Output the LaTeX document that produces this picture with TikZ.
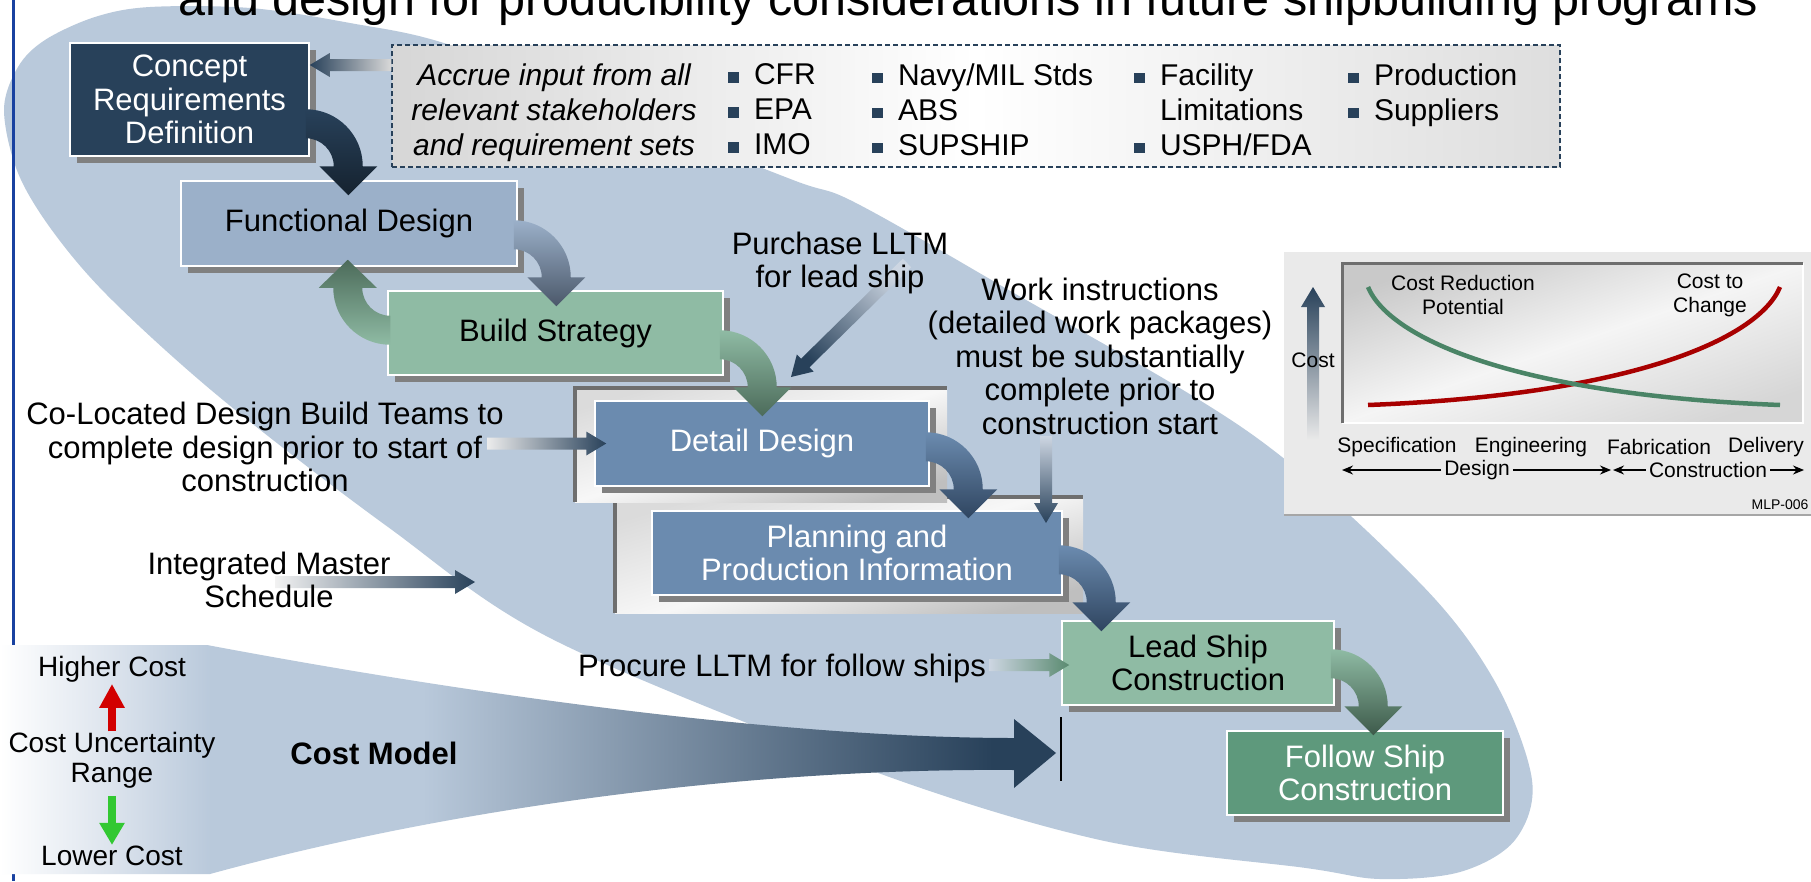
\documentclass[tikz,border=0pt]{standalone}
\usepackage{fontspec}
\setmainfont{Liberation Sans}
\usetikzlibrary{arrows.meta,calc,shadows}
\definecolor{blob}{RGB}{185,201,219}
\definecolor{navy}{RGB}{40,65,90}
\definecolor{navydark}{RGB}{21,34,47}
\definecolor{fdblue}{RGB}{155,176,201}
\definecolor{fddark}{RGB}{75,88,106}
\definecolor{ddblue}{RGB}{107,139,175}
\definecolor{dddark}{RGB}{47,69,96}
\definecolor{bsgreen}{RGB}{143,187,164}
\definecolor{bsdark}{RGB}{76,107,90}
\definecolor{fsgreen}{RGB}{94,153,124}
\definecolor{fsdark}{RGB}{61,90,74}
\definecolor{procgreen}{RGB}{90,138,112}
\definecolor{fadeA}{RGB}{222,229,238}
\definecolor{fadeblue}{RGB}{205,214,226}
\definecolor{shadowgrey}{RGB}{128,128,128}
\definecolor{bevelgrey}{RGB}{110,110,110}
\definecolor{leftblue}{RGB}{25,65,160}
\definecolor{curvegreen}{RGB}{74,132,102}
\definecolor{curvered}{RGB}{168,0,0}
\definecolor{upred}{RGB}{210,0,0}
\definecolor{downgreen}{RGB}{50,200,50}
\definecolor{chartpanel}{RGB}{234,234,234}
\pgfdeclarehorizontalshading{costfade}{100bp}{color(0bp)=(white); color(25bp)=(white);
  color(30bp)=(fadeA); color(35bp)=(blob); color(45bp)=(blob); color(72bp)=(navy); color(100bp)=(navy)}
\newcommand{\sqbullet}{{\color{navy}\raisebox{0.07em}{\rule{0.36em}{0.36em}}}\hspace{0.5em}}
% curved hand-over arrow: [offset]{from}{to}{start colour}{tip colour}
\newcommand{\bendarrow}[5][13]{%
  \coordinate (bc) at ($(#2.east |- #3.north)+(-4,#1)$);
  \shade[top color=#4, bottom color=#5] ($(bc)+(0,57)$) arc[start angle=90, end angle=0, radius=57pt]
    -- ($(bc)+(71.5,0)$) -- ($(bc)+(42.5,-29)$) -- ($(bc)+(13.5,0)$) -- ($(bc)+(28,0)$)
    arc[start angle=0, end angle=90, radius=28pt] -- cycle;
}
\newcommand{\bendback}[4]{%
  \coordinate (bb) at ($(#1.west |- #2.south)+(3,-21)$);
  \shade[bottom color=#3, top color=#4] ($(bb)+(0,-57)$) arc[start angle=270, end angle=180, radius=57pt]
    -- ($(bb)+(-71.5,0)$) -- ($(bb)+(-42.5,28)$) -- ($(bb)+(-13.5,0)$) -- ($(bb)+(-28,0)$)
    arc[start angle=180, end angle=270, radius=28pt] -- cycle;
}
% straight block arrow: {shading}{from}{to}
\newcommand{\fatarrow}[3]{%
  \coordinate (fa-h) at ($(#3)!20pt!(#2)$);
  \shade[#1] ($(#2)!6pt!270:(#3)$) -- ($(fa-h)!6pt!270:(#3)$) -- ($(fa-h)!12pt!270:(#3)$)
    -- (#3) -- ($(fa-h)!12pt!90:(#3)$) -- ($(fa-h)!6pt!90:(#3)$) -- ($(#2)!6pt!90:(#3)$) -- cycle;
}
\tikzset{
  every node/.style={font=\fontsize{31}{33.5}\selectfont, inner sep=1pt},
  stage/.style={draw=white, line width=1.5pt, align=center,
    general shadow={fill=shadowgrey, shadow xshift=7pt, shadow yshift=-7pt}},
  sdark/.style={stage, fill=navy, text=white},
  slight/.style={stage, fill=fdblue},
  sgreen/.style={stage, fill=bsgreen},
  ssteel/.style={stage, fill=ddblue, text=white},
  sfollow/.style={stage, fill=fsgreen, text=white},
  bevel/.style={left color=gray!28, right color=gray!50, middle color=gray!6, shading angle=17, inner sep=0pt},
  bevel edge/.style={draw=bevelgrey, line width=4pt},
  stakebox/.style={draw=navy, line width=1.5pt, dash pattern=on 5pt off 3pt,
    left color=gray!32, right color=gray!26, middle color=white},
  note/.style={align=center},
  stakecol/.style={font=\fontsize{30}{35}\selectfont, align=left, anchor=north west, inner sep=0pt},
  legend/.style={font=\fontsize{28}{30}\selectfont, align=center},
  chartlabel/.style={font=\fontsize{21}{24}\selectfont, align=center, inner sep=3pt},
  axisarrow/.style={-{Stealth[length=11pt,width=9pt]}, line width=1.3pt},
}
\begin{document}
\begin{tikzpicture}[x=1pt,y=1pt]
  \useasboundingbox (0,0) rectangle (1811,-881);
  \clip (0,0) rectangle (1811,-881);
  \fill[white] (0,0) rectangle (1811,-881);

  % backdrop
  \fill[blob] plot[smooth cycle, tension=0.55] coordinates {(4,-110) (18,-67) (45,-40) (95,-17)
    (150,-7) (250,-8) (350,-23) (450,-45) (620,-112) (793,-180) (854,-202) (1000,-285)
    (1250,-433) (1417,-580) (1494,-680) (1532,-780) (1515,-840) (1460,-872) (1380,-879)
    (1306,-868) (1100,-840) (870,-770) (554,-640) (388,-527) (223,-400) (112,-300)
    (54,-233) (18,-173)};
  \draw[leftblue, line width=2.5pt] (13.5,0) -- (13.5,-881);
  \node[anchor=base west, font=\fontsize{48.5}{50}\selectfont, inner sep=0pt] (title) at (178,-15)
    {and design for producibility considerations in future shipbuilding programs};

  % cost model funnel
  \shade[shading=costfade] (0,-645) -- (207,-645) .. controls (500,-700) and (800,-738) .. (1014,-738)
    -- (1014,-719) -- (1056,-753) -- (1014,-788) -- (1014,-770)
    .. controls (780,-768) and (480,-800) .. (210,-874) -- (0,-874) -- cycle;
  \draw[line width=2pt] (1061,-717) -- (1061,-781);

  % panels behind detail design and planning
  \node[bevel, minimum width=468pt, minimum height=116pt] (ppanel) at (849,-555) {};
  \draw[bevel edge] (ppanel.south west) |- (ppanel.north east);
  \node[bevel, minimum width=372pt, minimum height=114pt] (dpanel) at (761,-445) {};
  \draw[bevel edge] (dpanel.south west) |- (dpanel.north east);

  % stages
  \node[sdark, minimum width=239pt, minimum height=113pt] (concept) at (189.5,-99.5) {Concept\\Requirements\\Definition};
  \node[slight, minimum width=336pt, minimum height=85pt] (functional) at (349,-223.5) {Functional Design};
  \node[sgreen, minimum width=335pt, minimum height=84pt] (build) at (555.5,-333) {Build Strategy};
  \node[ssteel, minimum width=334pt, minimum height=85pt] (detail) at (762,-443.5) {Detail Design};
  \node[ssteel, minimum width=410pt, minimum height=84pt] (planning) at (857,-553) {Planning and\\Production Information};
  \node[sgreen, minimum width=272pt, minimum height=84pt] (lead) at (1198,-663) {Lead Ship\\Construction};
  \node[sfollow, minimum width=276pt, minimum height=84pt] (follow) at (1365,-773) {Follow Ship\\Construction};

  % stakeholder inputs
  \node[stakebox, minimum width=1168pt, minimum height=122pt] (stake) at (976,-106) {};
  \node[stakecol, anchor=north, align=center, font=\fontsize{30}{35}\selectfont\itshape] (accrue) at (554,-63.5)
    {Accrue input from all\\relevant stakeholders\\and requirement sets};
  \node[stakecol] (col1) at (728,-63.5) {\sqbullet CFR\\\sqbullet EPA\\\sqbullet IMO};
  \node[stakecol] (col2) at (872,-63.5) {\sqbullet Navy/MIL Stds\\\sqbullet ABS\\\sqbullet SUPSHIP};
  \node[stakecol] (col3) at (1134,-63.5) {\sqbullet Facility\\\hspace*{0.86em}Limitations\\\sqbullet USPH/FDA};
  \node[stakecol] (col4) at (1348,-63.5) {\sqbullet Production\\\sqbullet Suppliers};

  % hand-over arrows
  \bendarrow[14]{concept}{functional}{navy}{navydark}
  \bendarrow{functional}{build}{fdblue}{fddark}
  \bendback{build}{functional}{bsgreen}{bsdark}
  \bendarrow{build}{detail}{bsgreen}{bsdark}
  \bendarrow[21]{detail}{planning}{ddblue}{dddark}
  \bendarrow[18]{planning}{lead}{ddblue}{dddark}
  \bendarrow[24]{lead}{follow}{bsgreen}{fsdark}

  % input arrows
  \coordinate (stake-out) at (stake.west |- 0,-65);
  \coordinate (concept-in) at (concept.east |- stake-out);
  \fatarrow{left color=navy, right color=gray!30}{stake-out}{concept-in}
  \coordinate (colo-out) at (487,-443.5);
  \coordinate (detail-in) at ($(detail.west)+(12,0)$);
  \fatarrow{left color=gray!15, right color=navy}{colo-out}{detail-in}
  \coordinate (ims-out) at (275,-582);
  \coordinate (ims-tip) at (475,-582);
  \fatarrow{left color=gray!10, right color=navy}{ims-out}{ims-tip}
  \coordinate (purchase-out) at (907,-263);
  \coordinate (purchase-tip) at (791,-377);
  \fatarrow{top color=fadeblue, bottom color=navy, shading angle=-45.5}{purchase-out}{purchase-tip}
  \coordinate (work-out) at (1046,-436);
  \coordinate (planning-in) at (1046,-523);
  \fatarrow{top color=fadeblue, bottom color=navy}{work-out}{planning-in}
  \coordinate (lead-in) at ($(lead.west)+(8,-2)$);
  \coordinate (procure-out) at (989,-665);
  \fatarrow{left color=fadeblue, right color=procgreen}{procure-out}{lead-in}

  % side notes
  \node[note] (colo) at (265,-447) {Co-Located Design Build Teams to\\complete design prior to start of\\construction};
  \node[note] (ims) at (269,-580) {Integrated Master\\Schedule};
  \node[note] (purchase) at (840,-263) {Purchase LLTM\\for lead ship};
  \node[note] (work) at (1100,-356) {Work instructions\\(detailed work packages)\\must be substantially\\complete prior to\\construction start};
  \node[note] (procure) at (782,-668) {Procure LLTM for follow ships};
  \node[font=\fontsize{31}{33.5}\selectfont\bfseries] (costmodel) at (374,-753) {Cost Model};

  % cost uncertainty legend
  \node[legend] (higher) at (112,-669.7) {Higher Cost};
  \node[legend] (unc) at (112,-760.7) {Cost Uncertainty\\Range};
  \node[legend] (lower) at (112,-856) {Lower Cost};
  \draw[upred, line width=8pt, -{Triangle[width=24pt,length=24pt]}] (unc) -- (higher);
  \draw[downgreen, line width=8pt, -{Triangle[width=24pt,length=22pt]}, shorten <=6pt] (unc) -- (lower);

  % cost chart
  \fill[chartpanel] (1284,-252) rectangle (1811,-515);
  \draw[gray!70, line width=2.5pt] (1284,-515) -- (1811,-515);
  \shade[left color=gray!42, right color=gray!32, middle color=gray!8, shading angle=19] (1342,-263) rectangle (1803,-423);
  \draw[white, line width=2pt] (1342,-423) -| (1803,-263);
  \draw[bevelgrey, line width=3pt] (1342,-423) |- (1803,-263);
  \draw[curvered, line width=4.5pt] (1368,-405) .. controls (1628,-395) and (1758,-340) .. (1780,-287);
  \draw[curvegreen, line width=4.5pt] (1368,-287) .. controls (1390,-340) and (1520,-395) .. (1780,-405);
  \coordinate (cost-out) at (1313,-440);
  \coordinate (cost-tip) at (1313,-287);
  \fatarrow{bottom color=chartpanel, top color=navy}{cost-out}{cost-tip}
  \node[chartlabel] (crp) at (1463,-295) {Cost Reduction\\Potential};
  \node[chartlabel] (ctc) at (1710,-295) {Cost to\\Change};
  \node[chartlabel] (costax) at (1313,-360) {Cost};
  \node[chartlabel] (spec) at (1397,-447) {Specification};
  \node[chartlabel] (eng) at (1531,-447) {Engineering};
  \node[chartlabel] (fab) at (1659,-447) {Fabrication};
  \node[chartlabel] (deliv) at (1766,-447) {Delivery};
  \node[chartlabel] (design) at (1477,-470) {Design};
  \node[chartlabel] (constr) at (1708,-470) {Construction};
  \coordinate (dl) at (1342,-470);
  \coordinate (dr) at (1611,-470);
  \coordinate (cl) at (1613,-470);
  \coordinate (cr) at (1804,-470);
  \draw[axisarrow] (design.west) -- (dl);
  \draw[axisarrow] (design.east) -- (dr);
  \draw[axisarrow] (constr.west) -- (cl);
  \draw[axisarrow] (constr.east) -- (cr);
  \node[font=\fontsize{14}{16}\selectfont] (mlp) at (1780,-505) {MLP-006};
\end{tikzpicture}
\end{document}
